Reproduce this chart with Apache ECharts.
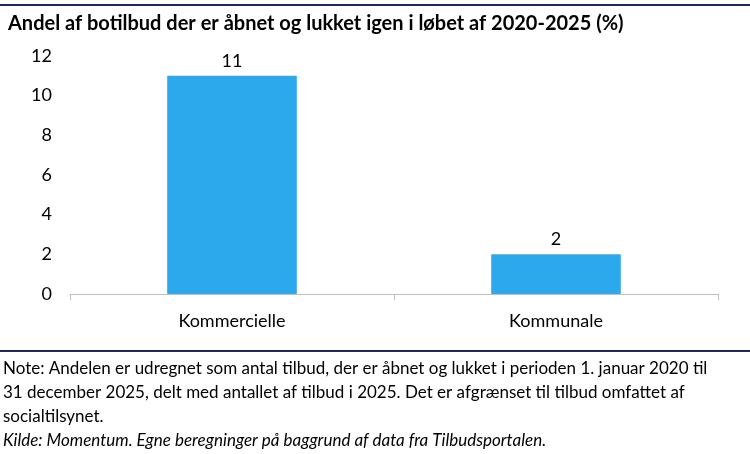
<!DOCTYPE html>
<html><head><meta charset="utf-8">
<script src="https://cdn.jsdelivr.net/npm/echarts@6/dist/echarts.min.js"></script>
<style>html,body{margin:0;padding:0;background:#fff}#c{width:750px;height:454px}</style>
</head><body><div id="c"></div>
<script>
const categories = ['Kommercielle', 'Kommunale'];
const values = [11, 2];
const yTicks = [0, 2, 4, 6, 8, 10, 12];
const titleText = 'Andel af botilbud der er åbnet og lukket igen i løbet af 2020-2025 (%)';
const noteLines = [
  'Note: Andelen er udregnet som antal tilbud, der er åbnet og lukket i perioden 1. januar 2020 til',
  '31 december 2025, delt med antallet af tilbud i 2025. Det er afgrænset til tilbud omfattet af',
  'socialtilsynet.'
];
const sourceText = 'Kilde: Momentum. Egne beregninger på baggrund af data fra Tilbudsportalen.';

const FONT = 'Lato';
const chart = echarts.init(document.getElementById('c'));
const graphics = [
  {type:'rect', shape:{x:0,y:4,width:750,height:2}, style:{fill:'#1f2a5a'}},
  {type:'rect', shape:{x:0,y:350,width:750,height:2}, style:{fill:'#1f2a5a'}}
];
noteLines.forEach((t,i)=>graphics.push({type:'text', left:3, top:360+i*24, style:{text:t, font:'17px '+FONT, fill:'#000'}}));
graphics.push({type:'text', left:3, top:360+3*24, style:{text:sourceText, font:'italic 17px '+FONT, fill:'#000'}});

chart.setOption({
  animation:false,
  title:{text:titleText, left:3, top:9, textStyle:{fontFamily:FONT, fontWeight:'bold', fontSize:20, color:'#000'}},
  grid:{left:70, right:32, top:56, bottom:160},
  xAxis:{type:'category', data:categories,
    axisLine:{lineStyle:{color:'#bfbfbf'}},
    axisTick:{show:true, length:6, lineStyle:{color:'#bfbfbf'}},
    axisLabel:{fontFamily:FONT, fontSize:18, color:'#000', margin:18}},
  yAxis:{type:'value', min:yTicks[0], max:yTicks[yTicks.length-1], interval:2,
    axisLine:{show:false}, axisTick:{show:false}, splitLine:{show:false},
    axisLabel:{fontFamily:FONT, fontSize:18, color:'#000', margin:18}},
  series:[{type:'bar', data:values, barWidth:'40%', itemStyle:{color:'#2ba9ec'},
    label:{show:true, position:'top', distance:6, fontFamily:FONT, fontSize:18, color:'#000'}}],
  graphic:graphics
});
</script></body></html>
